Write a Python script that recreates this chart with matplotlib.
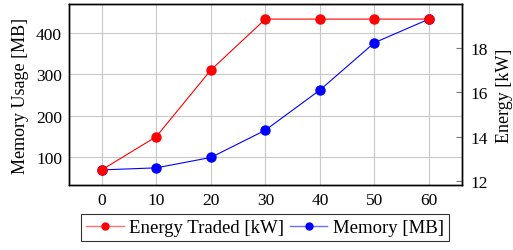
import matplotlib
matplotlib.use("Agg")
import matplotlib.pyplot as plt
from matplotlib.lines import Line2D

plt.rcParams['font.family'] = ['Liberation Serif', 'DejaVu Serif']

x = [0, 10, 20, 30, 40, 50, 60]
energy_traded = [12.5, 14.0, 17.0, 19.3, 19.3, 19.3, 19.3]
memory = [68.5, 73.5, 98.5, 164.5, 261.5, 376, 433]
x_ticks = [0, 10, 20, 30, 40, 50, 60]
left_ticks = [100, 200, 300, 400]
right_ticks = [12, 14, 16, 18]

fig = plt.figure(figsize=(5.13, 2.51), dpi=100)
ax = fig.add_axes([0.1345, 0.259, 0.7655, 0.721])
ax2 = ax.twinx()

fs = 13
ax.plot(x, memory, color='blue', lw=0.8, marker='o', ms=6.5, zorder=3)
ax2.plot(x, energy_traded, color='red', lw=0.8, marker='o', ms=6.5, zorder=3)

def enl(vals):
    lo, hi = min(vals), max(vals)
    r = hi - lo
    return lo - 0.1 * r, hi + 0.1 * r

ax.set_xlim(-6, 66)
ax.set_ylim(*enl(memory))
ax2.set_ylim(*enl(energy_traded))

ax.set_xticks(x_ticks)
ax.set_yticks(left_ticks)
ax2.set_yticks(right_ticks)
ax.grid(True, color='#c8c8c8', lw=0.8)
ax.set_axisbelow(True)

ax.tick_params(direction='in', length=0, labelsize=12.5, pad=5)
ax2.tick_params(direction='in', length=4, labelsize=12.5, color='#777777', pad=6)
for a in (ax, ax2):
    for s in a.spines.values():
        s.set_linewidth(1.0)
        s.set_color('black')

ax.set_ylabel('Memory Usage [MB]', fontsize=fs, labelpad=5)
ax2.set_ylabel('Energy [kW]', fontsize=fs, labelpad=6)

handles = [
    Line2D([], [], color='#ff7070', lw=1.0, marker='o', ms=5,
           markerfacecolor='red', markeredgecolor='red'),
    Line2D([], [], color='#7070ff', lw=1.0, marker='o', ms=5,
           markerfacecolor='blue', markeredgecolor='blue'),
]
leg = fig.legend(handles, ['Energy Traded [kW]', 'Memory [MB]'], ncol=2,
                 loc='center', bbox_to_anchor=(265 / 513, 1 - 228.5 / 251),
                 frameon=True, fancybox=False, edgecolor='black',
                 fontsize=13.5, handlelength=2.0, handletextpad=0.3,
                 columnspacing=0.3, borderpad=0.25)
leg.get_frame().set_linewidth(0.8)

fig.savefig('out.png', dpi=100)
